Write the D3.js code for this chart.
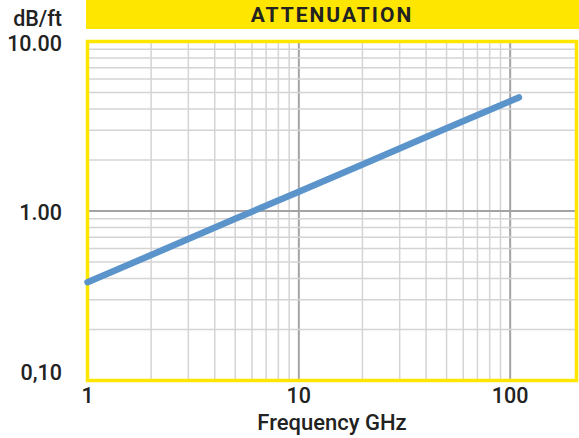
<!DOCTYPE html>
<html>
<head>
<meta charset="utf-8">
<script src="https://cdnjs.cloudflare.com/ajax/libs/d3/7.8.5/d3.min.js"></script>
<style>
  html, body { margin: 0; padding: 0; background: #fff; }
  #chart svg { display: block; font-family: Roboto, "Noto Sans", sans-serif; }
</style>
</head>
<body>
<div id="chart"></div>
<script>
(function() {

  var width = 579;
  var height = 438;

  // values
  var freqGHz = [1, 2, 5, 10, 20, 50, 110];
  var attenuation = [0.38, 0.55, 0.90, 1.30, 1.88, 3.08, 4.68];

  var xTickValues = [1, 10, 100];
  var xTickLabels = ["1", "10", "100"];
  var yTickValues = [10, 1, 0.1];
  var yTickLabels = ["10.00", "1.00", "0,10"];

  var title = "ATTENUATION";
  var yTitle = "dB/ft";
  var xTitle = "Frequency GHz";

  var yellow = "#ffe600";
  var blue = "#5b94cb";
  var ink = "#222";

  var left = 87.5, right = 576.5, top = 41.5, bottom = 380.5;

  var x = d3.scaleLog().domain([1, 206]).range([left, right]);
  var y = d3.scaleLog().domain([0.1, 10]).range([bottom, top]);

  var svg = d3.select("#chart")
    .append("svg")
    .attr("width", width)
    .attr("height", height);

  // title bar
  svg.append("rect")
    .attr("x", left - 1.5)
    .attr("y", 0)
    .attr("width", width - left + 1.5)
    .attr("height", 29)
    .attr("fill", yellow);

  svg.append("text")
    .attr("x", (left + right) / 2)
    .attr("y", 21.5)
    .attr("text-anchor", "middle")
    .attr("font-size", 21)
    .attr("font-weight", 700)
    .attr("letter-spacing", 2)
    .attr("fill", ink)
    .text(title);

  svg.append("rect")
    .attr("x", left)
    .attr("y", top)
    .attr("width", right - left)
    .attr("height", bottom - top)
    .attr("fill", "#fff");

  // minor + major grid
  var xGrid = [];
  [1, 10].forEach(function(dec) {
    for (var i = 1; i <= 9; i++) xGrid.push(dec * i);
  });
  xGrid.push(100);
  var yGrid = [];
  [0.1, 1].forEach(function(dec) {
    for (var i = 1; i <= 9; i++) yGrid.push(dec * i);
  });

  var isMajor = function(v) {
    return Math.abs(Math.log10(v) - Math.round(Math.log10(v))) < 1e-6;
  };

  svg.append("g").selectAll("line")
    .data(xGrid.filter(function(d) { return d > 1; }))
    .enter().append("line")
    .attr("x1", function(d) { return x(d); })
    .attr("x2", function(d) { return x(d); })
    .attr("y1", top)
    .attr("y2", bottom)
    .attr("stroke", function(d) { return isMajor(d) ? "#a3a3a5" : "#d4d4d4"; })
    .attr("stroke-width", function(d) { return isMajor(d) ? 2 : 1.5; });

  svg.append("g").selectAll("line")
    .data(yGrid.filter(function(d) { return d > 0.1; }))
    .enter().append("line")
    .attr("x1", left)
    .attr("x2", right)
    .attr("y1", function(d) { return y(d); })
    .attr("y2", function(d) { return y(d); })
    .attr("stroke", function(d) { return isMajor(d) ? "#a3a3a5" : "#d4d4d4"; })
    .attr("stroke-width", function(d) { return isMajor(d) ? 2 : 1.5; });

  // yellow frame
  svg.append("rect")
    .attr("x", left)
    .attr("y", top)
    .attr("width", right - left)
    .attr("height", bottom - top)
    .attr("fill", "none")
    .attr("stroke", yellow)
    .attr("stroke-width", 3.5);

  var line = d3.line()
    .x(function(d, i) { return x(freqGHz[i]); })
    .y(function(d) { return y(d); });

  svg.append("path")
    .datum(attenuation)
    .attr("d", line)
    .attr("fill", "none")
    .attr("stroke", blue)
    .attr("stroke-width", 6.5)
    .attr("stroke-linecap", "round");

  // axis labels
  var yLabelY = [50.5, 220, 380];
  svg.append("g").selectAll("text")
    .data(yTickValues)
    .enter().append("text")
    .attr("x", 62)
    .attr("y", function(d, i) { return yLabelY[i]; })
    .attr("text-anchor", "end")
    .attr("font-size", 21.5)
    .attr("font-weight", 500)
    .attr("fill", ink)
    .text(function(d, i) { return yTickLabels[i]; });

  svg.append("text")
    .attr("x", 62)
    .attr("y", 25.5)
    .attr("text-anchor", "end")
    .attr("font-size", 21.5)
    .attr("font-weight", 500)
    .attr("fill", ink)
    .text(yTitle);

  svg.append("g").selectAll("text")
    .data(xTickValues)
    .enter().append("text")
    .attr("x", function(d) { return x(d); })
    .attr("y", 403)
    .attr("text-anchor", "middle")
    .attr("font-size", 21.5)
    .attr("font-weight", 500)
    .attr("fill", ink)
    .text(function(d, i) { return xTickLabels[i]; });

  svg.append("text")
    .attr("x", (left + right) / 2)
    .attr("y", 429.5)
    .attr("text-anchor", "middle")
    .attr("font-size", 22)
    .attr("font-weight", 500)
    .attr("fill", ink)
    .text(xTitle);

})();
</script>
</body>
</html>
